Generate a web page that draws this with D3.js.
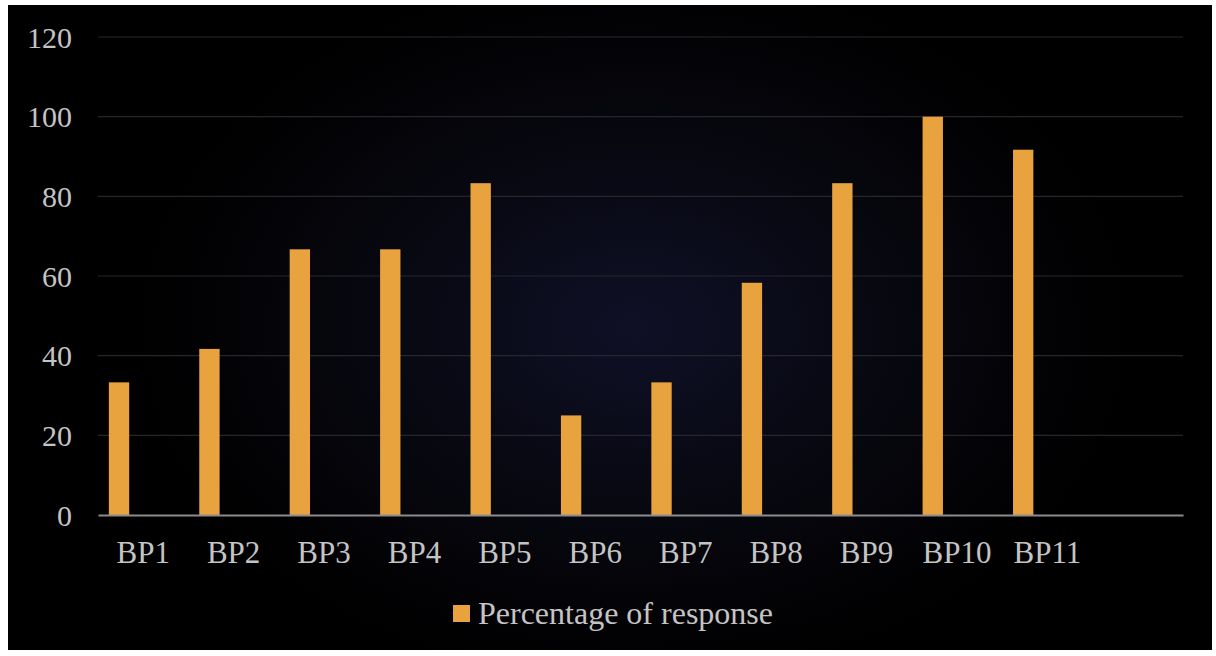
<!DOCTYPE html>
<html>
<head>
<meta charset="utf-8">
<script src="https://cdn.jsdelivr.net/npm/d3@7"></script>
<style>
  html, body { margin: 0; padding: 0; background: #ffffff; }
  svg { display: block; }
</style>
</head>
<body>
<svg id="chart" width="1216" height="656"></svg>
<script>
const categories = ["BP1", "BP2", "BP3", "BP4", "BP5", "BP6", "BP7", "BP8", "BP9", "BP10", "BP11", ""];
const seriesName = "Percentage of response";
const values = [33.3, 41.7, 66.7, 66.7, 83.3, 25, 33.3, 58.3, 83.3, 100, 91.7];
const yTicks = [0, 20, 40, 60, 80, 100, 120];

const svg = d3.select("#chart");
const defs = svg.append("defs");
const grad = defs.append("radialGradient")
  .attr("id", "bg").attr("cx", "0.52").attr("cy", "0.5").attr("r", "0.55")
  .attr("gradientTransform", "translate(0.52,0.5) scale(0.75,1) translate(-0.52,-0.5)");
grad.append("stop").attr("offset", "0%").attr("stop-color", "#0f1026");
grad.append("stop").attr("offset", "55%").attr("stop-color", "#07070f");
grad.append("stop").attr("offset", "100%").attr("stop-color", "#000000");

svg.append("rect").attr("x", 8).attr("y", 5).attr("width", 1204).attr("height", 645)
  .attr("fill", "url(#bg)");

const font = "'Liberation Serif', 'Times New Roman', serif";
const textColor = "#c4c4c4";

const x = d3.scaleBand().domain(categories).range([98, 1183]).padding(0);
const y = d3.scaleLinear().domain([0, 120]).range([515, 37]);

// gridlines
svg.append("g").selectAll("line").data(yTicks.filter(t => t > 0)).join("line")
  .attr("x1", 98).attr("x2", 1183)
  .attr("y1", d => y(d)).attr("y2", d => y(d))
  .attr("stroke", "#26262c").attr("stroke-width", 1.2);

// y axis labels
const yAxis = d3.axisLeft(y).tickValues(yTicks).tickSize(0).tickPadding(0);
const gy = svg.append("g").attr("transform", "translate(72,0)").call(yAxis);
gy.select(".domain").remove();
gy.selectAll("text").attr("fill", textColor).attr("font-family", font)
  .attr("font-size", 30).attr("dy", "0.34em");

// bars
svg.append("g").selectAll("rect").data(values).join("rect")
  .attr("x", (d, i) => x(categories[i]) + x.bandwidth() * 0.12)
  .attr("width", x.bandwidth() * 0.225)
  .attr("y", d => y(d))
  .attr("height", d => y(0) - y(d))
  .attr("fill", "#e8a33e");

// x axis
const xAxis = d3.axisBottom(x).tickSize(0).tickPadding(0);
const gx = svg.append("g").attr("transform", `translate(0,${y(0)})`).call(xAxis);
gx.select(".domain").attr("stroke", "#8c8c8c").attr("stroke-width", 2);
gx.selectAll("text").attr("fill", textColor).attr("font-family", font)
  .attr("font-size", 31).attr("y", 48).attr("dy", 0);

// legend
const lg = svg.append("g");
lg.append("rect").attr("x", 453).attr("y", 605).attr("width", 17).attr("height", 17).attr("fill", "#e8a33e");
lg.append("text").attr("x", 478).attr("y", 624).text(seriesName)
  .attr("fill", textColor).attr("font-family", font).attr("font-size", 32);
</script>
</body>
</html>
